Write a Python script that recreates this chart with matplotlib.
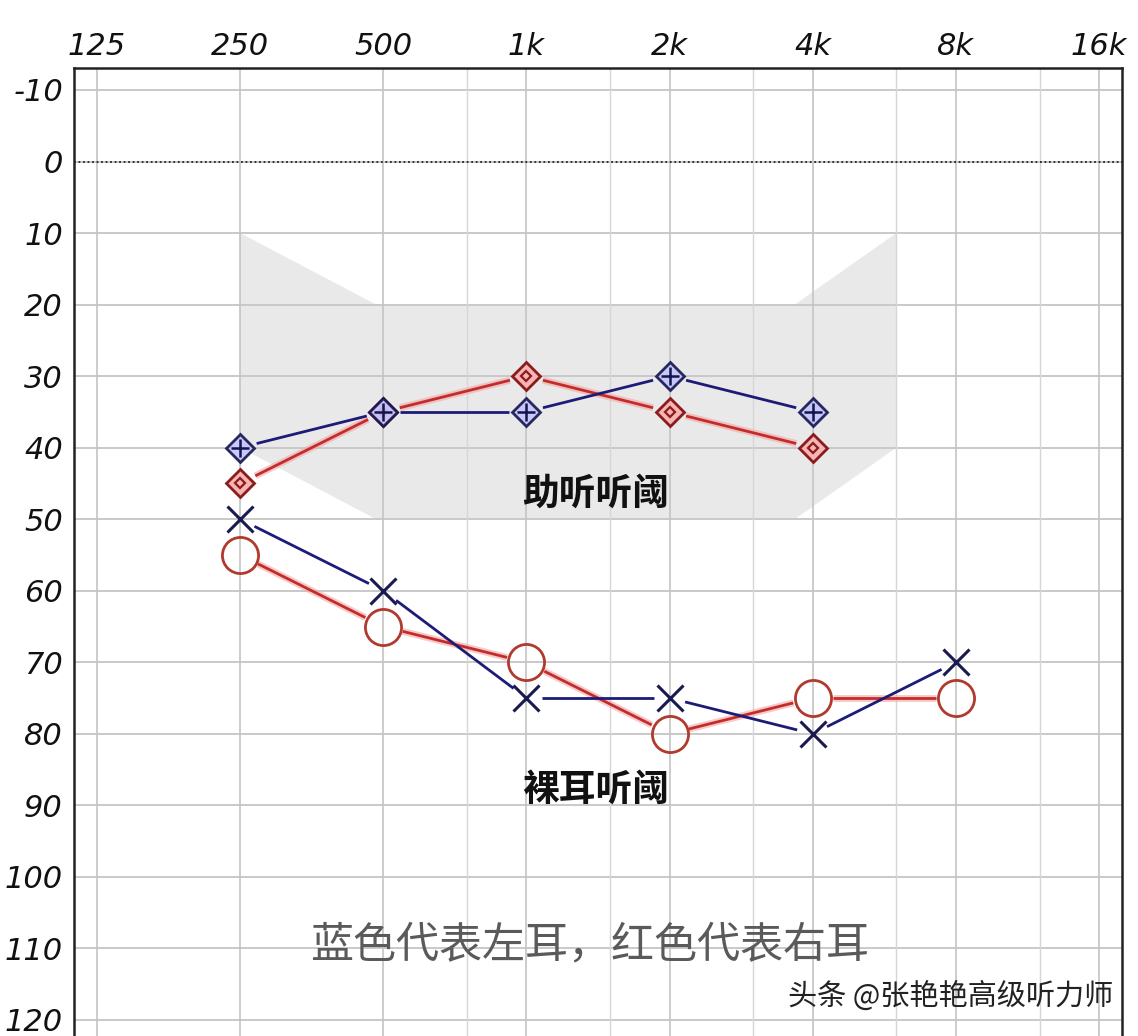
import matplotlib
matplotlib.use('Agg')
import matplotlib.pyplot as plt
from matplotlib.patches import Polygon
import numpy as np

# frequencies (Hz) and thresholds (dB HL)
freq_tick_values = [125, 250, 500, 1000, 2000, 4000, 8000, 16000]
freq_tick_labels = ['125', '250', '500', '1k', '2k', '4k', '8k', '16k']
half_octaves = [750, 1500, 3000, 6000, 12000]
db_ticks = [-10, 0, 10, 20, 30, 40, 50, 60, 70, 80, 90, 100, 110, 120]

aided_freq = [250, 500, 1000, 2000, 4000]
aided_left = [40, 35, 35, 30, 35]
aided_right = [45, 35, 30, 35, 40]

bare_freq = [250, 500, 1000, 2000, 4000, 8000]
bare_left = [50, 60, 75, 75, 80, 70]
bare_right = [55, 65, 70, 80, 75, 75]

# shaded region outline (freq, dB)
band_freq = [250, 483, 3666, 6000, 6000, 3666, 483, 250]
band_db = [10, 20, 20, 10, 40, 50, 50, 40]

W, H = 1138, 1036
fig = plt.figure(figsize=(W / 100, H / 100), dpi=100)
fig.patch.set_facecolor('white')
ax = fig.add_axes([74 / W, 0, (1122 - 74) / W, 1 - 68 / H])

ax.set_xscale('log', base=2)
ax.set_xlim(125 * 2 ** (-23 / 143.2), 16000 * 2 ** (23 / 143.2))
ax.set_ylim(122.24, -13.07)

ax.xaxis.tick_top()
ax.set_xticks(freq_tick_values)
ax.set_xticklabels(freq_tick_labels)
ax.xaxis.set_minor_locator(matplotlib.ticker.NullLocator())
ax.set_yticks(db_ticks)
ax.set_yticklabels([str(v) for v in db_ticks])
ax.tick_params(axis='both', length=0, labelsize=22)
ax.tick_params(axis='x', pad=5)
ax.tick_params(axis='y', pad=8)
for lab in ax.get_xticklabels() + ax.get_yticklabels():
    lab.set_fontfamily('DejaVu Sans')
    lab.set_fontstyle('oblique')
    lab.set_color('#111111')

for s in ['top', 'left', 'right']:
    ax.spines[s].set_linewidth(1.8)
    ax.spines[s].set_color('#222222')
ax.spines['bottom'].set_visible(False)

# grid
for v in db_ticks:
    ax.axhline(v, color='#c9c9c9', lw=1.4, zorder=1)
for f in freq_tick_values:
    ax.axvline(f, color='#c4c4c4', lw=1.2, zorder=1)
for f in half_octaves:
    ax.axvline(f, color='#d6d6d6', lw=1.0, zorder=1)
ax.axhline(0, color='#222222', lw=1.3, ls=(0, (1, 1.5)), zorder=2)

# shaded band
band = Polygon(np.column_stack([band_freq, band_db]), closed=True,
               facecolor='#e6e6e6', edgecolor='none', alpha=0.85, zorder=0.5)
ax.add_patch(band)


def gapped_line(xs, ys, gap, **kw):
    pts = ax.transData.transform(np.column_stack([xs, ys]))
    inv = ax.transData.inverted()
    for p0, p1 in zip(pts[:-1], pts[1:]):
        d = p1 - p0
        u = d / np.hypot(*d)
        seg = inv.transform(np.array([p0 + u * gap, p1 - u * gap]))
        ax.plot(seg[:, 0], seg[:, 1], solid_capstyle='butt', **kw)


blue = '#1c1c78'
red = '#c42c2c'
red_glow = '#f3a6a6'

# bare ear thresholds
gapped_line(bare_freq, bare_right, 20, color=red_glow, lw=5, alpha=0.6, zorder=3)
gapped_line(bare_freq, bare_right, 20, color=red, lw=2.0, zorder=4)
gapped_line(bare_freq, bare_left, 16, color=blue, lw=2.0, zorder=4)
ax.plot(bare_freq, bare_right, 'o', ms=26, mfc='none', mec='#b03a2e', mew=2.0, zorder=5)
ax.plot(bare_freq, bare_left, 'x', ms=19, mec='#1a1a50', mew=2.2, zorder=5)

# aided thresholds
gapped_line(aided_freq, aided_right, 17, color=red_glow, lw=5, alpha=0.6, zorder=3)
gapped_line(aided_freq, aided_right, 17, color=red, lw=2.0, zorder=4)
gapped_line(aided_freq, aided_left, 17, color=blue, lw=2.0, zorder=4)
ax.plot(aided_freq, aided_right, 'D', ms=14, mfc='#f8b4b4', mec='#8a1c1c', mew=2.0, zorder=5)
ax.plot(aided_freq, aided_right, 'D', ms=5.5, mfc='none', mec='#8a1c1c', mew=1.6, zorder=6)
ax.plot(aided_freq, aided_left, 'D', ms=14, mfc='#c4c4fa', mec='#141450', mew=2.0, alpha=0.9, zorder=7)
ax.plot(aided_freq, aided_left, '+', ms=13, mec='#141450', mew=1.8, zorder=8)

cjk = ['Noto Sans CJK SC', 'DejaVu Sans']
ax.text(1400, 46.5, '助听听阈', fontsize=26.5, fontweight='bold', family=cjk,
        ha='center', va='center', color='#111111', zorder=9)
ax.text(1400, 87.9, '裸耳听阈', fontsize=26.5, fontweight='bold', family=cjk,
        ha='center', va='center', color='#111111', zorder=9)
ax.text(1360, 109.6, '蓝色代表左耳，红色代表右耳', fontsize=31, family=cjk,
        ha='center', va='center', color='#5a5a5a', zorder=9)
fig.text(1113 / W, 1 - 997 / H, '头条 @张艳艳高级听力师', fontsize=21, family=cjk,
         ha='right', va='center', color='#222222')

fig.savefig('out.png', dpi=100)
